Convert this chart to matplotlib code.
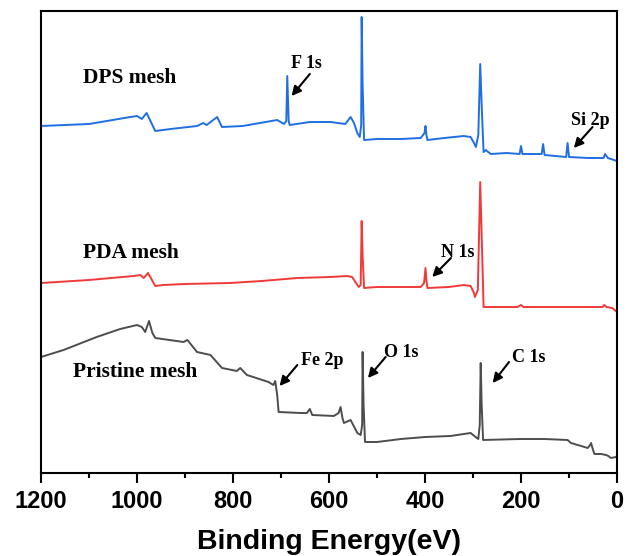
import numpy as np
import matplotlib.pyplot as plt

# espectros XPS (energia de enlace eV, intensidad a.u. ya desplazada)
dps_E = [1200, 1100, 1014, 1000, 990, 980, 962, 930, 875, 862, 855, 833, 823, 780,
         708, 694, 689, 687, 684, 682, 640, 597, 566, 555, 548, 541, 536, 533, 532,
         530, 527, 500, 450, 409, 401, 399, 397, 395, 360, 319, 305, 298, 294, 289,
         285, 282, 278, 273, 271, 263, 230, 203, 200, 197, 157, 154, 151, 106, 103,
         100, 60, 28, 25, 19, 0]
dps_I = [359, 361, 368, 369, 366, 372, 354, 356, 359, 362, 360, 368, 358, 359,
         365, 361, 364, 409, 364, 360, 363, 363, 361, 368, 362, 352, 348, 360, 468,
         400, 345, 346, 346, 347, 352, 359, 350, 345, 347, 349, 348, 342, 338, 350,
         421, 380, 333, 335, 334, 331, 332, 331, 339, 331, 331, 341, 330, 328, 342,
         328, 327, 327, 331, 327, 324]

pda_E = [1200, 1100, 1007, 993, 986, 977, 962, 945, 900, 806, 740, 666, 597, 562,
         552, 545, 538, 534, 532, 530, 527, 500, 450, 409, 402, 399, 397, 395, 350,
         319, 305, 298, 296, 290, 285, 282, 278, 250, 207, 200, 195, 100, 30, 27,
         22, 10, 0]
pda_I = [202, 205, 209, 210, 207, 212, 199, 200, 201, 202, 204, 207, 208, 209,
         208, 203, 198, 200, 264, 230, 197, 198, 198, 198, 202, 217, 204, 197, 198,
         200, 199, 192, 188, 195, 303, 250, 178, 178, 178, 180, 178, 178, 178, 180,
         178, 177, 173]

pri_E = [1200, 1153, 1084, 1035, 1000, 990, 983, 975, 968, 962, 903, 895, 875, 847,
         823, 792, 785, 771, 726, 716, 712, 708, 705, 660, 646, 640, 635, 590, 580,
         576, 572, 569, 555, 541, 534, 531, 530, 528, 525, 500, 450, 399, 347, 305,
         292, 289, 286, 284, 282, 279, 200, 152, 103, 96, 61, 56, 54, 50, 47, 33,
         23, 18, 13, 2, 0]
pri_I = [128, 135, 148, 156, 160, 158, 153, 164, 152, 147, 143, 145, 133, 130,
         117, 114, 117, 110, 103, 100, 104, 90, 73, 72, 72, 76, 70, 69, 72,
         78, 67, 62, 65, 52, 50, 60, 133, 80, 43, 43, 46, 48, 49, 52,
         47, 46, 60, 122, 80, 45, 46, 46, 45, 42, 37, 40, 42, 35, 31, 31,
         30, 29, 27, 28, 27]

serif = 'Liberation Serif'
sans = 'Liberation Sans'

fig = plt.figure(figsize=(6.3, 5.56), dpi=100)
ax = fig.add_axes([0.0651, 0.1493, 0.9143, 0.8309])

ax.plot(dps_E, dps_I, color='#1f6fe3', lw=1.4)
ax.plot(pda_E, pda_I, color='#f03a3a', lw=1.4)
ax.plot(pri_E, pri_I, color='#4d4d4d', lw=1.4)

ax.set_xlim(1200, 0)
ax.set_ylim(12, 474)

# nombres de muestras
for txt, x0, y in [('DPS mesh', 1112, 407), ('PDA mesh', 1112, 232), ('Pristine mesh', 1133, 113)]:
    ax.text(x0, y, txt, fontsize=15.5, fontweight='bold', family=serif, va='center')

# picos anotados: texto, posicion texto, cola flecha, punta flecha
picos = [('F 1s', (680, 417), (640, 411), (678, 389)),
         ('Si 2p', (96, 360), (51, 358), (90, 337)),
         ('N 1s', (367, 228), (346, 227), (385, 208)),
         ('Fe 2p', (659, 120), (666, 120), (703, 99)),
         ('O 1s', (486, 128), (482, 128), (519, 107)),
         ('C 1s', (219, 123), (225, 123), (259, 102))]
for txt, pos, cola, punta in picos:
    ax.text(pos[0], pos[1], txt, fontsize=13, fontweight='bold', family=serif)
    ax.annotate('', xy=punta, xytext=cola,
                arrowprops=dict(arrowstyle='-|>', color='black', lw=1.5,
                                mutation_scale=14, shrinkA=0, shrinkB=0))

ax.set_xticks(np.arange(1200, -1, -200))
ax.set_xticks(np.arange(1100, 0, -200), minor=True)
ax.set_yticks([])
ax.tick_params(axis='x', which='major', direction='out', length=7, width=1.5, pad=5)
ax.tick_params(axis='x', which='minor', direction='out', length=3.5, width=1.5)
for lbl in ax.get_xticklabels():
    lbl.set_fontfamily(sans)
    lbl.set_fontweight('bold')
    lbl.set_fontsize(17)
for s in ax.spines.values():
    s.set_linewidth(1.5)

ax.set_xlabel('Binding Energy(eV)', fontsize=20.5, fontweight='bold', family=sans, labelpad=12)

fig.savefig('out.png', dpi=100)
